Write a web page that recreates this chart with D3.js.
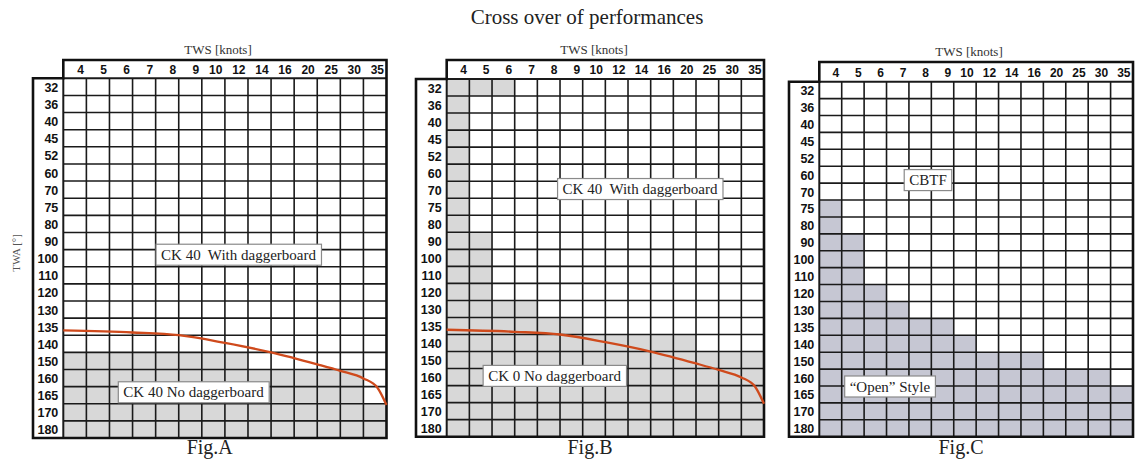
<!DOCTYPE html>
<html>
<head>
<meta charset="utf-8">
<script src="https://cdn.jsdelivr.net/npm/d3@7"></script>
<style>
  body { margin: 0; background: #fff; }
  svg { display: block; }
  .note text { white-space: pre; }
</style>
</head>
<body>
<svg id="chart" width="1135" height="461"></svg>
<script>
// wind speed columns and wind angle rows
const twsLabels = ["4", "5", "6", "7", "8", "9", "10", "12", "14", "16", "20", "25", "30", "35"];
const twaLabels = ["32", "36", "40", "45", "52", "60", "70", "75", "80", "90", "100",
                   "110", "120", "130", "135", "140", "150", "160", "165", "170", "180"];

// number of shaded cells from the left, one value per TWA row
const shadedColsA = [0, 0, 0, 0, 0, 0, 0, 0, 0, 0, 0, 0, 0, 0, 0, 0, 8, 13, 13, 14, 14];
const shadedColsB = [3, 1, 1, 1, 1, 1, 1, 1, 1, 2, 2, 2, 2, 4, 6, 11, 14, 14, 14, 14, 14];
const shadedColsC = [0, 0, 0, 0, 0, 0, 0, 1, 1, 2, 2, 2, 3, 4, 6, 7, 10, 13, 14, 14, 14];

// cross over curve, in column / row units of the grid
const crossCol = [0, 3, 5, 7, 9, 11, 12, 13, 13.6, 14.0];
const crossRow = [14.72, 14.84, 15.0, 15.45, 16.0, 16.7, 17.08, 17.52, 18.05, 19.07];

const serif = "'Liberation Serif', 'Times New Roman', serif";
const sans = "'Liberation Sans', Arial, sans-serif";

const panels = [
  { left: 63.3, right: 386.5, headerTop: 60, top: 78.3, bottom: 438, labelLeft: 33,
    shade: shadedColsA, fill: "#d8d8d8", curve: true, fig: "Fig.A", twa: true, twsX: 218,
    notes: [{ text: "CK 40  With daggerboard", c: 7.59, r: 10.3 },
            { text: "CK 40 No daggerboard", c: 5.64, r: 18.33 }] },
  { left: 446.7, right: 764, headerTop: 60, top: 79, bottom: 436.7, labelLeft: 416,
    shade: shadedColsB, fill: "#d8d8d8", curve: true, fig: "Fig.B", twa: false, twsX: 594,
    notes: [{ text: "CK 40  With daggerboard", c: 8.53, r: 6.46 },
            { text: "CK 0 No daggerboard", c: 4.76, r: 17.43 }] },
  { left: 819.3, right: 1133, headerTop: 62, top: 81.7, bottom: 436.7, labelLeft: 789,
    shade: shadedColsC, fill: "#c6c7d3", curve: false, fig: "Fig.C", twa: false, twsX: 969,
    notes: [{ text: "CBTF", c: 4.85, r: 5.82 },
            { text: "\u201COpen\u201D Style", c: 3.15, r: 18.03 }] }
];

const svg = d3.select("#chart");

svg.append("text")
  .attr("x", 587).attr("y", 24)
  .attr("text-anchor", "middle")
  .attr("font-family", serif).attr("font-size", 21)
  .attr("fill", "#222")
  .text("Cross over of performances");

function drawPanel(p) {
  const g = svg.append("g");
  const x = d3.scaleBand().domain(twsLabels).range([p.left, p.right]);
  const y = d3.scaleBand().domain(twaLabels).range([p.top, p.bottom]);
  const cx = d3.scaleLinear().domain([0, twsLabels.length]).range([p.left, p.right]);
  const cy = d3.scaleLinear().domain([0, twaLabels.length]).range([p.top, p.bottom]);

  // shaded cells
  const cells = [];
  twaLabels.forEach((a, i) => {
    for (let j = 0; j < p.shade[i]; j++) cells.push({ a: a, s: twsLabels[j] });
  });
  g.selectAll("rect.cell").data(cells).join("rect")
    .attr("class", "cell")
    .attr("x", d => x(d.s)).attr("y", d => y(d.a))
    .attr("width", x.bandwidth()).attr("height", y.bandwidth())
    .attr("fill", p.fill);

  // grid lines
  g.selectAll("line.v").data(twsLabels.slice(1)).join("line")
    .attr("class", "v")
    .attr("x1", d => x(d)).attr("x2", d => x(d))
    .attr("y1", p.top).attr("y2", p.bottom)
    .attr("stroke", "#1a1a1a").attr("stroke-width", 1.6);
  g.selectAll("line.h").data(twaLabels.slice(1)).join("line")
    .attr("class", "h")
    .attr("y1", d => y(d)).attr("y2", d => y(d))
    .attr("x1", p.left).attr("x2", p.right)
    .attr("stroke", "#1a1a1a").attr("stroke-width", 1.6);
  g.append("line")
    .attr("x1", p.left).attr("x2", p.right).attr("y1", p.top).attr("y2", p.top)
    .attr("stroke", "#1a1a1a").attr("stroke-width", 2);
  g.append("line")
    .attr("x1", p.left).attr("x2", p.left).attr("y1", p.top).attr("y2", p.bottom)
    .attr("stroke", "#1a1a1a").attr("stroke-width", 2);

  // outer L-shaped frame
  g.append("path")
    .attr("d", `M${p.left},${p.headerTop}H${p.right}V${p.bottom}H${p.labelLeft}V${p.top}H${p.left}Z`)
    .attr("fill", "none").attr("stroke", "#111").attr("stroke-width", 2.6);

  // cross over line
  if (p.curve) {
    g.append("path")
      .datum(d3.range(crossCol.length))
      .attr("d", d3.line()
        .x(i => cx(crossCol[i]))
        .y(i => cy(crossRow[i]))
        .curve(d3.curveMonotoneX))
      .attr("fill", "none").attr("stroke", "#cf4a1c").attr("stroke-width", 2.3);
  }

  // column header (TWS)
  const top = g.append("g")
    .attr("transform", `translate(0,${(p.headerTop + p.top) / 2 + 0.5})`)
    .call(d3.axisTop(x).tickSize(0).tickPadding(0));
  top.select(".domain").remove();
  top.attr("font-family", sans).attr("font-size", 12).attr("font-weight", "bold");
  top.selectAll("text")
    .attr("y", 0).attr("dy", "0.36em")
    .attr("x", x.bandwidth() / 2 - 2.5)
    .attr("text-anchor", "end").attr("fill", "#111");

  // row labels (TWA)
  const left = g.append("g")
    .attr("transform", `translate(${p.left - 5},0.5)`)
    .call(d3.axisLeft(y).tickSize(0).tickPadding(0));
  left.select(".domain").remove();
  left.attr("font-family", sans).attr("font-size", 12.5).attr("font-weight", "bold");
  left.selectAll("text").attr("x", 0).attr("dy", "0.36em").attr("fill", "#111");

  // boxed notes
  p.notes.forEach(n => {
    const ng = g.append("g").attr("class", "note");
    const rect = ng.append("rect");
    const t = ng.append("text")
      .attr("x", cx(n.c)).attr("y", cy(n.r))
      .attr("dy", "0.34em")
      .attr("text-anchor", "middle")
      .attr("font-family", serif).attr("font-size", 15)
      .attr("fill", "#222")
      .text(n.text);
    const bb = t.node().getBBox();
    rect.attr("x", bb.x - 5).attr("y", cy(n.r) - 10.5)
      .attr("width", bb.width + 10).attr("height", 21)
      .attr("fill", "#fff").attr("stroke", "#8a8a8a").attr("stroke-width", 1.2);
  });

  // titles around the grid
  g.append("text")
    .attr("x", p.twsX).attr("y", p.headerTop - 6)
    .attr("text-anchor", "middle")
    .attr("font-family", serif).attr("font-size", 13)
    .attr("fill", "#333")
    .text("TWS [knots]");

  g.append("text")
    .attr("x", (p.labelLeft + p.right) / 2).attr("y", 454)
    .attr("text-anchor", "middle")
    .attr("font-family", serif).attr("font-size", 20)
    .attr("fill", "#222")
    .text(p.fig);

  if (p.twa) {
    g.append("text")
      .attr("transform", "translate(20,253) rotate(-90)")
      .attr("text-anchor", "middle")
      .attr("font-family", serif).attr("font-size", 11)
      .attr("fill", "#555")
      .text("TWA [°]");
  }
}

panels.forEach(drawPanel);
</script>
</body>
</html>
